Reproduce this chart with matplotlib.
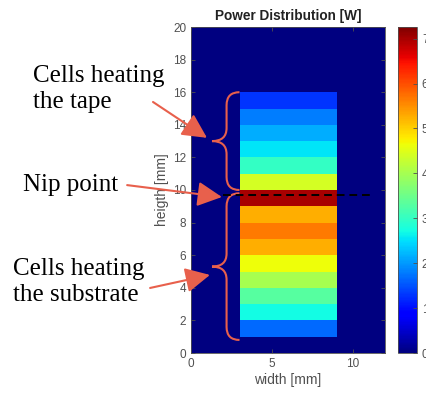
import numpy as np
import matplotlib
matplotlib.use("Agg")
import matplotlib.pyplot as plt
from matplotlib.path import Path
import matplotlib.patches as mpatches

# ---------------------------------------------------------------------------
# Data
# ---------------------------------------------------------------------------
domain_x = [0, 12]          # mm
domain_y = [0, 20]          # mm
strip_x = [3, 9]            # heated strip, mm
strip_y = [1, 16]           # 1 mm cells, bottom -> top
cell_power = [1.65, 2.7, 3.3, 4.0, 4.65, 5.25, 5.65, 5.25, 7.0,
              4.4, 3.0, 2.55, 2.15, 1.8, 1.3]   # W, bottom -> top
power_max = 7.26
nip_y = 9.7
nip_x = [2.0, 11.2]
x_ticks = [0, 5, 10]
y_ticks = list(range(0, 21, 2))
cbar_ticks = list(range(0, 8))

# annotation layout (data coords of the main axes)
braces = [(16.0, 10.0), (9.8, 0.8)]   # (top, bottom)
arrows = [((-2.35, 15.4), (0.99, 13.2)),
          ((-3.95, 10.3), (1.91, 9.57)),
          ((-2.53, 3.99), (1.17, 4.79))]
labels = [("Cells heating\nthe tape", 33, 89),
          ("Nip point", 23, 185),
          ("Cells heating\nthe substrate", 13, 282)]

RED = "#E8604C"
GRAY = "#505050"
SANS = "Liberation Sans"

# ---------------------------------------------------------------------------
# Grid
# ---------------------------------------------------------------------------
x_edges = np.array([domain_x[0], strip_x[0], strip_x[1], domain_x[1]], float)
y_edges = np.concatenate([[domain_y[0]],
                          np.arange(strip_y[0], strip_y[1] + 1),
                          [domain_y[1]]]).astype(float)
power = np.zeros((len(y_edges) - 1, len(x_edges) - 1))
power[1:-1, 1] = cell_power

W, H = 426, 394
fig = plt.figure(figsize=(W / 100, H / 100), dpi=100)
ax = fig.add_axes([191 / W, 1 - 353 / H, 194 / W, 326 / H])
cax = fig.add_axes([398 / W, 1 - 353 / H, 19 / W, 326 / H])

mesh = ax.pcolormesh(x_edges, y_edges, power, cmap="jet",
                     vmin=0, vmax=power_max, shading="flat")
ax.set_xlim(domain_x)
ax.set_ylim(domain_y)
ax.set_xticks(x_ticks)
ax.set_yticks(y_ticks)
ax.tick_params(direction="in", top=True, right=True, labelsize=8.5,
               colors=GRAY, length=3, width=0.6)
for lbl in ax.get_xticklabels() + ax.get_yticklabels():
    lbl.set_family(SANS)
for sp in ax.spines.values():
    sp.set_color(GRAY)
    sp.set_linewidth(0.6)
ax.set_xlabel("width [mm]", fontsize=10, color=GRAY, labelpad=2,
              family=SANS)
ax.set_ylabel("heigth [mm]", fontsize=10, color=GRAY, labelpad=3,
              family=SANS)
ax.set_title("Power Distribution [W]", fontsize=9.8, fontweight="bold",
             pad=5, family=SANS, color="#222222")

ax.plot(nip_x, [nip_y, nip_y], color="black", ls=(0, (4, 2.5)), lw=1.4,
        clip_on=False)

# colorbar
cb = fig.colorbar(mesh, cax=cax, ticks=cbar_ticks)
cb.outline.set_edgecolor(GRAY)
cb.outline.set_linewidth(0.6)
cax.tick_params(direction="in", labelsize=8.5, colors=GRAY, length=3,
                width=0.6)
for lbl in cax.get_yticklabels():
    lbl.set_family(SANS)

# curly braces
for top, bot in braces:
    mid = (top + bot) / 2
    xs, xv, xp = strip_x[0], 2.2, 1.3
    r = 0.8
    verts = [(xs, top), (xv, top), (xv, top - r),
             (xv, mid + r),
             (xv, mid), (xp, mid),
             (xv, mid), (xv, mid - r),
             (xv, bot + r),
             (xv, bot), (xs, bot)]
    codes = [Path.MOVETO, Path.CURVE3, Path.CURVE3,
             Path.LINETO,
             Path.CURVE3, Path.CURVE3,
             Path.CURVE3, Path.CURVE3,
             Path.LINETO,
             Path.CURVE3, Path.CURVE3]
    ax.add_patch(mpatches.PathPatch(Path(verts, codes), facecolor="none",
                                    edgecolor=RED, lw=1.5, clip_on=False))

# arrows
for tail, tip in arrows:
    ax.annotate("", xy=tip, xytext=tail, xycoords="data",
                annotation_clip=False,
                arrowprops=dict(arrowstyle="-|>,head_length=0.75,head_width=0.38",
                                color=RED, lw=1.5, mutation_scale=20,
                                shrinkA=0, shrinkB=0))

# labels
for txt, px, py in labels:
    fig.text(px / W, 1 - py / H, txt, ha="left", va="center",
             family="Liberation Serif", fontsize=18, linespacing=1.22)

fig.savefig("out.png", dpi=100)
